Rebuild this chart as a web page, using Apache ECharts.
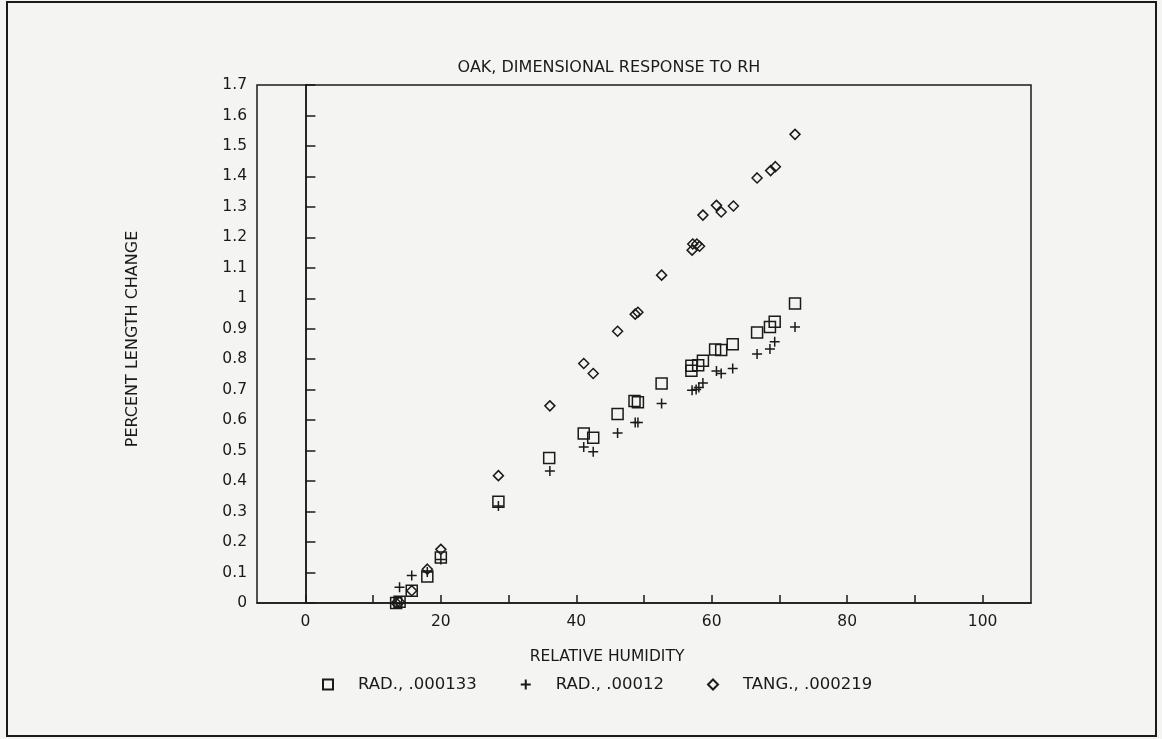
<!DOCTYPE html>
<html>
<head>
<meta charset="utf-8">
<title>Oak, dimensional response to RH</title>
<script src="https://cdn.jsdelivr.net/npm/echarts@6/dist/echarts.min.js"></script>
<style>
  html, body { margin: 0; padding: 0; background: #f4f4f2; }
  #chart { width: 1162px; height: 739px; }
</style>
</head>
<body>
<div id="chart"></div>
<script>
// Axis ticks and labels
const xTickValues = [0, 10, 20, 30, 40, 50, 60, 70, 80, 90, 100];
const xLabelValues = [0, 20, 40, 60, 80, 100];

// Series names, as shown in the legend
const seriesNames = ['RAD., .000133', 'RAD., .00012', 'TANG., .000219'];

// [relative humidity %, percent length change]
const radial133 = [
  [13.4, 0.000], [13.9, 0.004], [15.7, 0.040], [18.0, 0.087], [20.0, 0.149],
  [28.5, 0.332], [36.0, 0.476], [41.1, 0.556], [42.5, 0.542], [46.1, 0.620],
  [48.6, 0.663], [49.1, 0.659], [52.6, 0.720], [57.0, 0.779], [57.0, 0.762],
  [58.0, 0.780], [58.7, 0.795], [60.5, 0.832], [61.4, 0.830], [63.1, 0.849],
  [66.7, 0.888], [68.6, 0.906], [69.3, 0.923], [72.3, 0.983]
];
const radial12 = [
  [13.4, 0.000], [13.9, 0.052], [15.7, 0.090], [18.0, 0.102], [20.0, 0.143],
  [28.5, 0.318], [36.1, 0.433], [41.1, 0.512], [42.5, 0.496], [46.1, 0.558],
  [48.7, 0.592], [49.1, 0.592], [52.6, 0.655], [57.1, 0.698], [57.7, 0.701],
  [58.1, 0.707], [58.7, 0.722], [60.7, 0.761], [61.4, 0.753], [63.1, 0.770],
  [66.7, 0.817], [68.6, 0.834], [69.3, 0.857], [72.3, 0.906]
];
const tangential219 = [
  [13.4, 0.000], [13.9, 0.003], [15.7, 0.040], [18.0, 0.111], [20.0, 0.176],
  [28.5, 0.418], [36.1, 0.647], [41.1, 0.786], [42.5, 0.753], [46.1, 0.892],
  [48.7, 0.948], [49.1, 0.954], [52.6, 1.076], [57.1, 1.158], [57.2, 1.178],
  [57.8, 1.178], [58.2, 1.171], [58.7, 1.273], [60.7, 1.305], [61.4, 1.283],
  [63.2, 1.303], [66.7, 1.395], [68.7, 1.419], [69.4, 1.432], [72.3, 1.538]
];

const INK = '#1a1a1a';
const FONT = 'DejaVu Sans';

// Open plotter-style markers
const SQUARE = 'path://M0 0H10V10H0Z';
const PLUS = 'path://M5 0V10M0 5H10';
const DIAMOND = 'path://M5 0L10 5L5 10L0 5Z';

const markerStyle = { color: 'rgba(0,0,0,0)', borderColor: INK, borderWidth: 1.5, opacity: 1 };

function scatter(name, data, symbol, size) {
  return {
    type: 'scatter',
    name: name,
    data: data,
    symbol: symbol,
    symbolSize: size,
    itemStyle: markerStyle,
    emphasis: { disabled: true },
    silent: true
  };
}

const series = [
  scatter(seriesNames[0], radial133, SQUARE, 11),
  scatter(seriesNames[1], radial12, PLUS, 10),
  scatter(seriesNames[2], tangential219, DIAMOND, 10)
];

// Vertical reference line at 0 % RH
series[0].markLine = {
  silent: true,
  symbol: ['none', 'none'],
  label: { show: false },
  lineStyle: { color: INK, width: 1.5, type: 'solid', opacity: 1 },
  emphasis: { disabled: true },
  data: [{ xAxis: 0 }]
};

const chart = echarts.init(document.getElementById('chart'), null, { renderer: 'canvas' });

chart.setOption({
  animation: false,
  backgroundColor: '#f4f4f2',
  title: {
    text: 'OAK, DIMENSIONAL RESPONSE TO RH',
    left: 609,
    top: 68,
    padding: 0,
    textAlign: 'center',
    textVerticalAlign: 'middle',
    textStyle: { fontFamily: FONT, fontSize: 16, fontWeight: 'normal', color: INK }
  },
  legend: {
    data: seriesNames,
    left: 322,
    top: 676,
    padding: 0,
    itemWidth: 50,
    itemHeight: 10,
    itemGap: 43,
    selectedMode: false,
    itemStyle: { opacity: 1 },
    textStyle: { fontFamily: FONT, fontSize: 16.5, color: INK }
  },
  grid: {
    left: 257,
    top: 85,
    right: 131,
    bottom: 136,
    show: true,
    borderColor: INK,
    borderWidth: 1.5,
    backgroundColor: 'transparent'
  },
  xAxis: {
    type: 'value',
    min: -7.15,
    max: 107.15,
    axisLine: { show: true, onZero: false, lineStyle: { color: INK, width: 1.5 } },
    axisTick: {
      show: true, inside: true, length: 8,
      customValues: xTickValues,
      lineStyle: { color: INK, width: 1.5 }
    },
    axisLabel: {
      show: true, margin: 11,
      customValues: xLabelValues,
      fontFamily: FONT, fontSize: 15.5, color: INK
    },
    splitLine: { show: false }
  },
  yAxis: {
    type: 'value',
    min: 0,
    max: 1.7,
    interval: 0.1,
    axisLine: { show: true, lineStyle: { color: INK, width: 1.5 } },
    axisTick: { show: true, inside: true, length: 10, lineStyle: { color: INK, width: 1.5 } },
    axisLabel: {
      margin: 10,
      fontFamily: FONT, fontSize: 15.5, color: INK,
      formatter: v => String(Math.round(v * 10) / 10)
    },
    splitLine: { show: false }
  },
  graphic: [
    {
      type: 'rect',
      silent: true,
      shape: { x: 7, y: 2, width: 1149, height: 734 },
      style: { fill: 'none', stroke: INK, lineWidth: 2 }
    },
    {
      type: 'text',
      silent: true,
      x: 607,
      y: 657,
      style: {
        text: 'RELATIVE HUMIDITY',
        align: 'center', verticalAlign: 'middle',
        font: '15.5px "DejaVu Sans"', fill: INK
      }
    },
    {
      type: 'text',
      silent: true,
      x: 133,
      y: 339,
      rotation: Math.PI / 2,
      style: {
        text: 'PERCENT LENGTH CHANGE',
        align: 'center', verticalAlign: 'middle',
        font: '16px "DejaVu Sans"', fill: INK
      }
    }
  ],
  series: series
});
</script>
</body>
</html>
